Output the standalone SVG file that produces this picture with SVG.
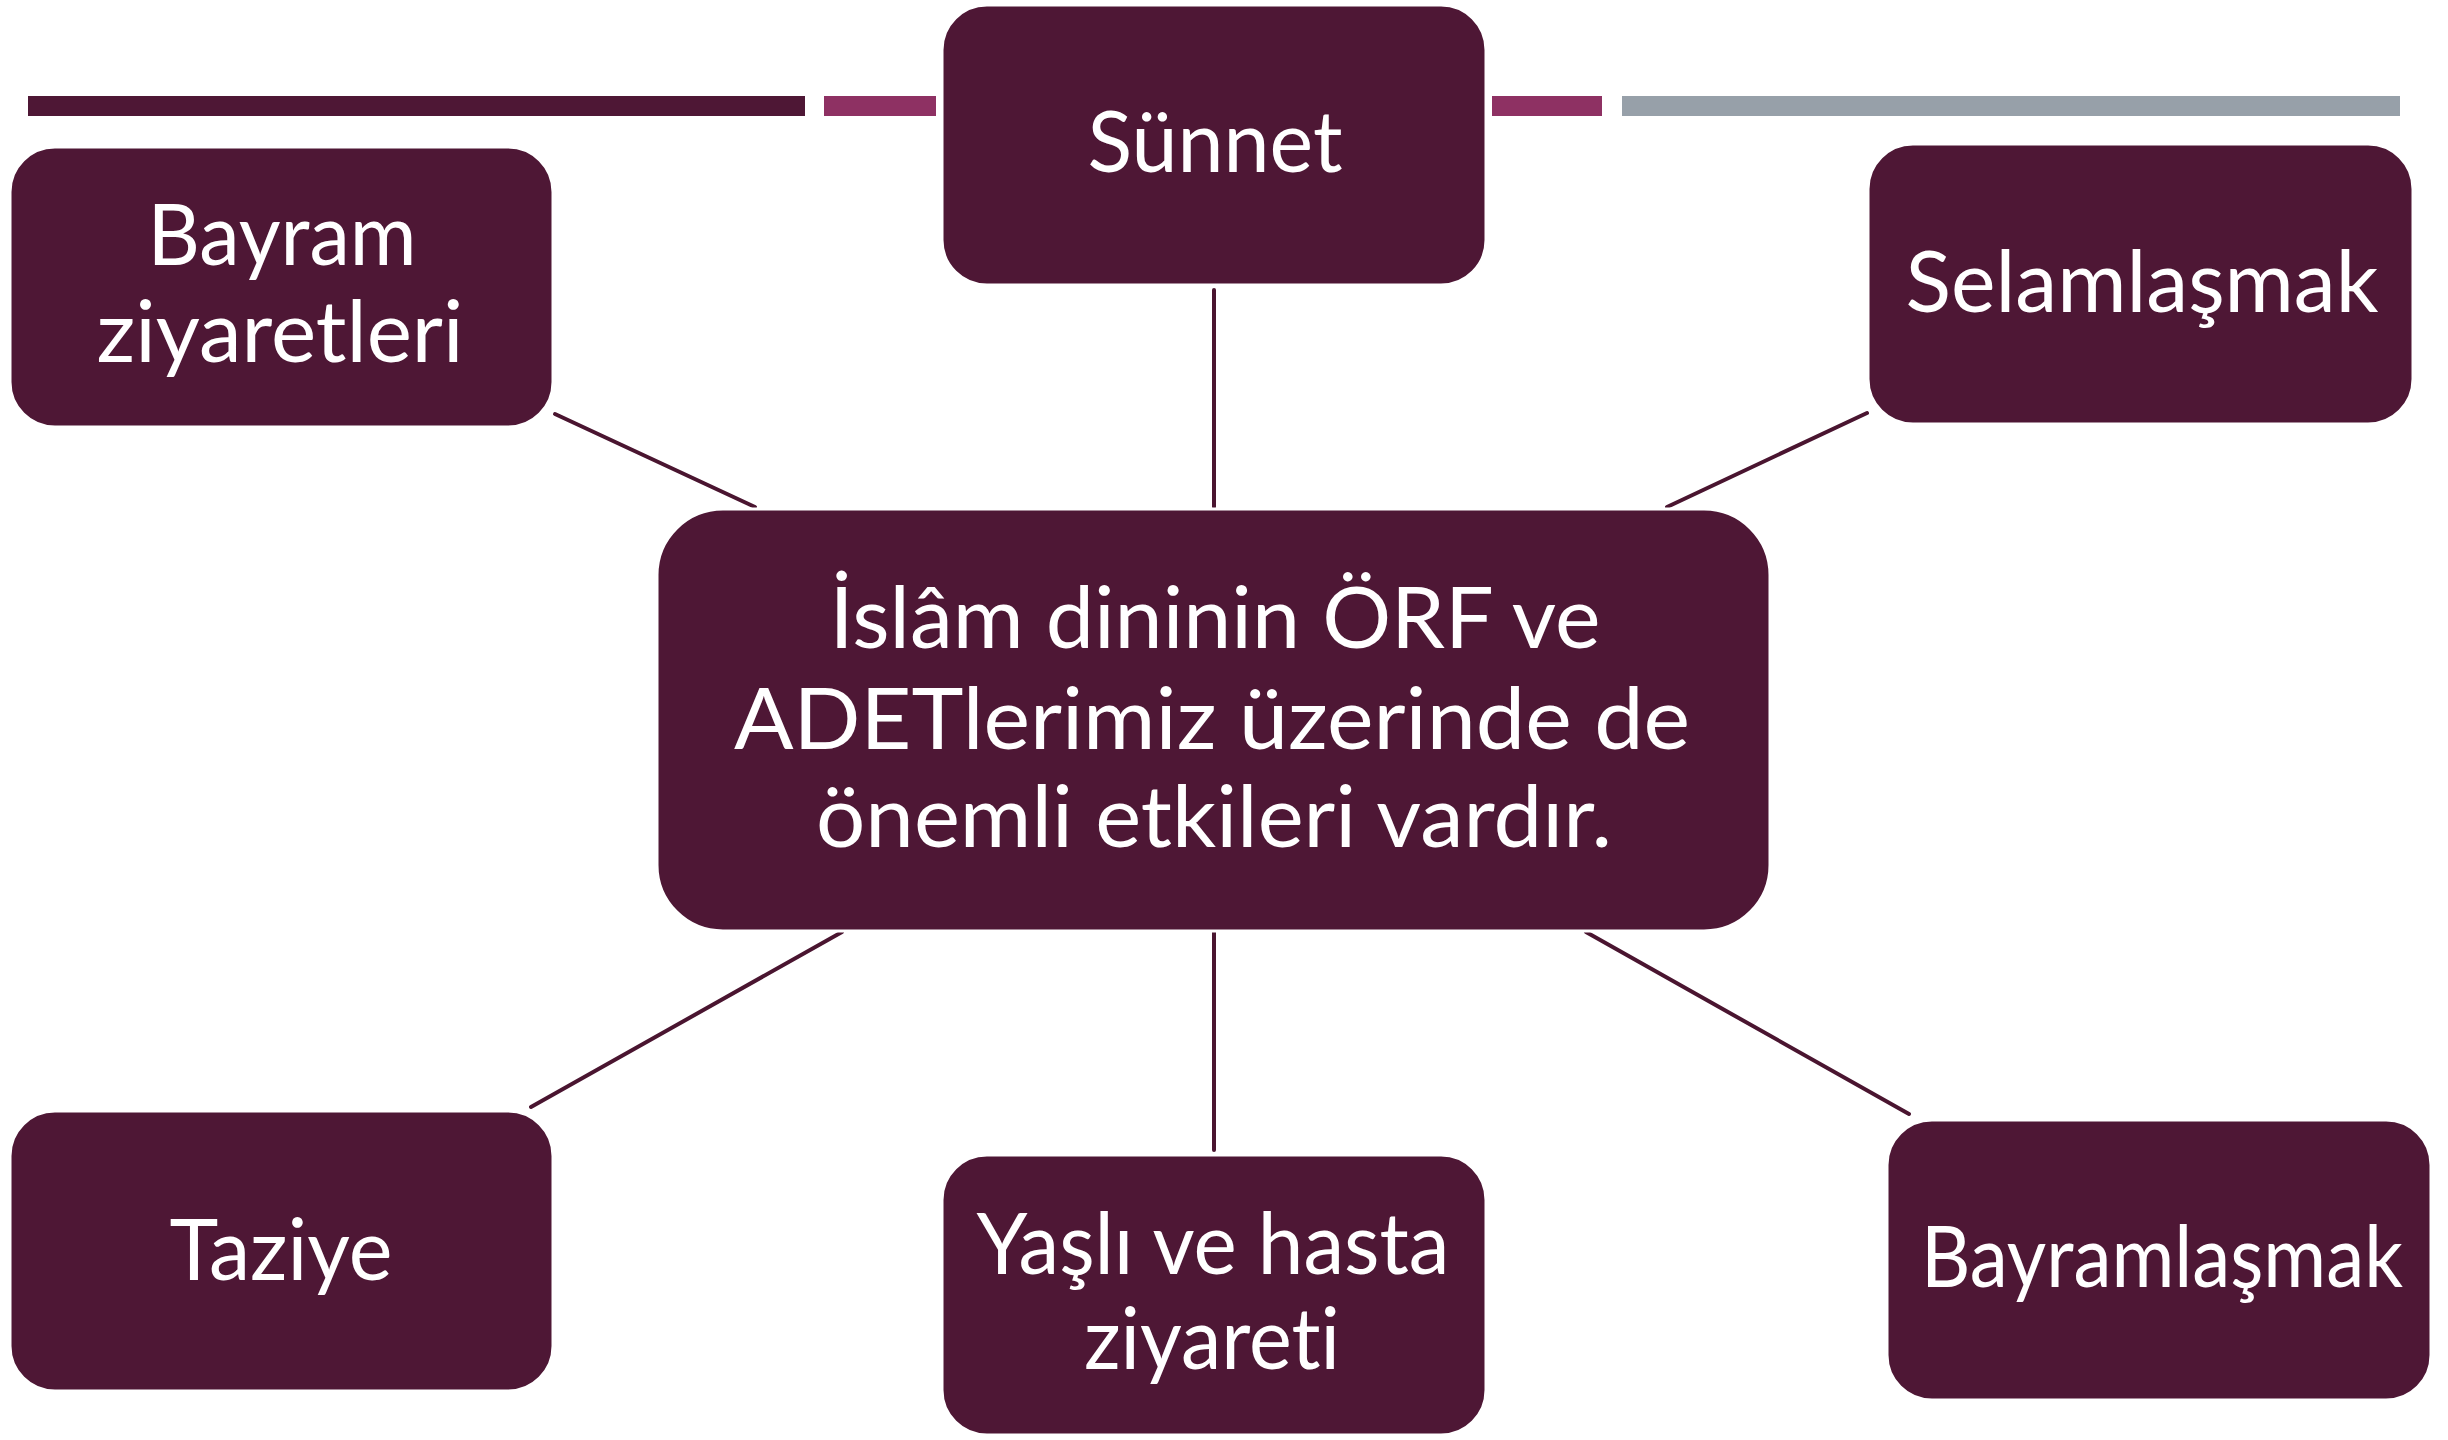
<svg xmlns="http://www.w3.org/2000/svg" width="2448" height="1440" viewBox="0 0 2448 1440">
<style>
.box{fill:#4E1735;stroke:#ffffff;stroke-width:3}
.lbl{fill:#ffffff;font-family:Lato,"Open Sans","Liberation Sans",sans-serif;font-size:85px;text-anchor:middle;font-variant-ligatures:none}
.con{stroke:#4A1530;stroke-width:4;stroke-linecap:round;fill:none}
</style>
<rect width="2448" height="1440" fill="#ffffff"/>
<g id="topbars">
<rect x="28" y="96" width="777" height="20" fill="#4E1735"/>
<rect x="824" y="96" width="112" height="20" fill="#8E3163"/>
<rect x="1492" y="96" width="110" height="20" fill="#8E3163"/>
<rect x="1622" y="96" width="778" height="20" fill="#97A0A9"/>
</g>
<g id="connectors">
<line class="con" x1="555" y1="414" x2="755" y2="507"/>
<line class="con" x1="1214" y1="290" x2="1214" y2="507"/>
<line class="con" x1="1867" y1="413" x2="1667" y2="507"/>
<line class="con" x1="842" y1="932" x2="531" y2="1107"/>
<line class="con" x1="1214" y1="932" x2="1214" y2="1150"/>
<line class="con" x1="1586" y1="932" x2="1909" y2="1114"/>
</g>
<g id="center">
<rect class="box" x="657" y="509" width="1113" height="422" rx="66" ry="66"/>
<text class="lbl" x="1215" y="648" textLength="771" lengthAdjust="spacingAndGlyphs">İslâm dininin ÖRF ve</text>
<text class="lbl" x="1212" y="749" textLength="956" lengthAdjust="spacingAndGlyphs">ADETlerimiz üzerinde de</text>
<text class="lbl" x="1214" y="847" textLength="796" lengthAdjust="spacingAndGlyphs">önemli etkileri vardır.</text>
</g>
<g id="sunnet">
<rect class="box" x="942" y="5" width="544" height="280" rx="45" ry="45"/>
<text class="lbl" x="1215" y="172" textLength="255" lengthAdjust="spacingAndGlyphs">Sünnet</text>
</g>
<g id="bayram-ziyaretleri">
<rect class="box" x="10" y="147" width="543" height="280" rx="45" ry="45"/>
<text class="lbl" x="282" y="265" textLength="269" lengthAdjust="spacingAndGlyphs">Bayram</text>
<text class="lbl" x="280" y="362" textLength="367" lengthAdjust="spacingAndGlyphs">ziyaretleri</text>
</g>
<g id="selamlasmak">
<rect class="box" x="1868" y="144" width="545" height="280" rx="45" ry="45"/>
<text class="lbl" x="2142" y="312" textLength="473" lengthAdjust="spacingAndGlyphs">Selamlaşmak</text>
</g>
<g id="taziye">
<rect class="box" x="10" y="1111" width="543" height="280" rx="45" ry="45"/>
<text class="lbl" x="281" y="1280" textLength="223" lengthAdjust="spacingAndGlyphs">Taziye</text>
</g>
<g id="yasli">
<rect class="box" x="942" y="1155" width="544" height="280" rx="45" ry="45"/>
<text class="lbl" x="1213" y="1274" textLength="473" lengthAdjust="spacingAndGlyphs">Yaşlı ve hasta</text>
<text class="lbl" x="1212" y="1369" textLength="256" lengthAdjust="spacingAndGlyphs">ziyareti</text>
</g>
<g id="bayramlasmak">
<rect class="box" x="1887" y="1120" width="544" height="280" rx="45" ry="45"/>
<text class="lbl" x="2162" y="1287" textLength="482" lengthAdjust="spacingAndGlyphs">Bayramlaşmak</text>
</g>
</svg>
